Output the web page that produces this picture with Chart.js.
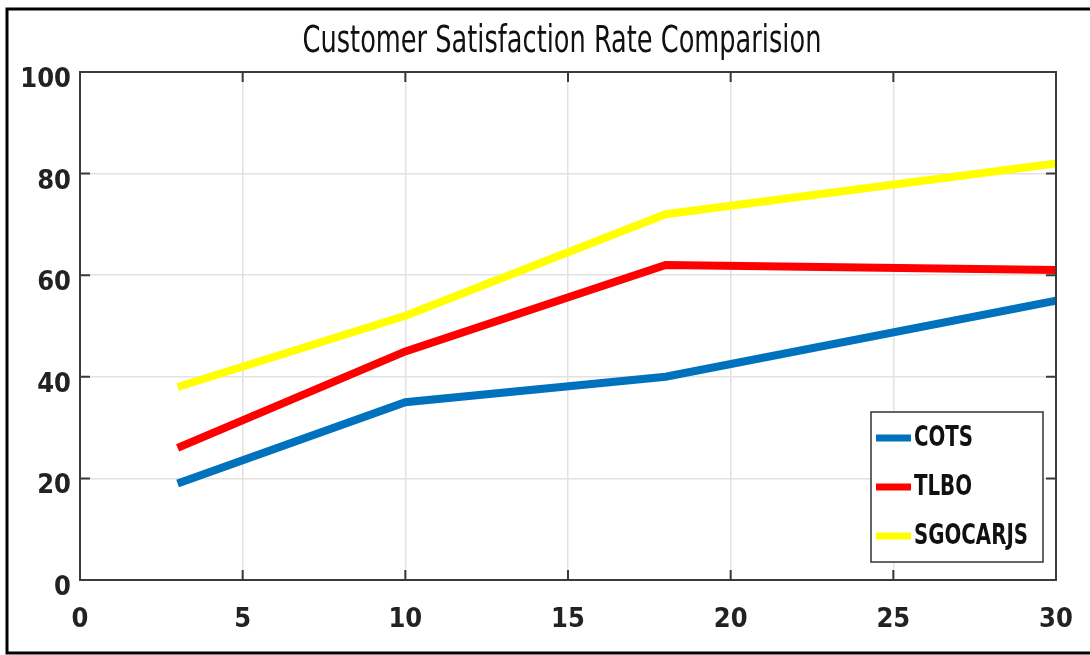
<!DOCTYPE html>
<html>
<head>
<meta charset="utf-8">
<script src="https://cdn.jsdelivr.net/npm/chart.js@4/dist/chart.umd.min.js"></script>
<style>
  html, body { margin: 0; padding: 0; background: #fff; overflow: hidden; }
  #wrap { width: 1090px; height: 655px; }
</style>
</head>
<body>
<div id="wrap"><canvas id="satChart" width="1090" height="655"></canvas></div>
<script>
const chartTitle = 'Customer Satisfaction Rate Comparision';
const xValues = [3, 10, 18, 30];
const cotsValues = [19, 35, 40, 55];
const tlboValues = [26, 45, 62, 61];
const sgocarjsValues = [38, 52, 72, 82];
const seriesNames = ['COTS', 'TLBO', 'SGOCARJS'];
const seriesColors = ['#0072BD', '#FF0000', '#FFFF00'];

const FONT = "'DejaVu Sans Condensed', 'Liberation Sans Narrow', Arial, sans-serif";

function toPoints(ys) {
    return xValues.map((x, i) => ({ x: x, y: ys[i] }));
}

// black frame round the figure (left, top, bottom)
const framePlugin = {
    id: 'frame',
    beforeDraw(chart) {
        const c = chart.ctx;
        c.save();
        c.strokeStyle = '#000';
        c.lineWidth = 3;
        c.beginPath();
        c.moveTo(1095, 9);
        c.lineTo(7, 9);
        c.lineTo(7, 653);
        c.lineTo(1095, 653);
        c.stroke();
        c.restore();
    }
};

// title, stretched a little in height like the original
const titlePlugin = {
    id: 'stretchTitle',
    afterDraw(chart) {
        const c = chart.ctx;
        const a = chart.chartArea;
        c.save();
        c.translate((a.left + a.right) / 2 - 6, 42);
        c.scale(1, 1.3);
        c.font = '28.5px ' + FONT;
        c.fillStyle = '#111';
        c.textAlign = 'center';
        c.textBaseline = 'middle';
        c.fillText(chartTitle, 0, 0);
        c.restore();
    }
};

// box round the plot and inward tick marks, matlab style
const boxPlugin = {
    id: 'box',
    afterDatasetsDraw(chart) {
        const c = chart.ctx;
        const a = chart.chartArea;
        const xs = chart.scales.x, ys = chart.scales.y;
        c.save();
        c.strokeStyle = '#3a3a3a';
        c.lineWidth = 2;
        c.strokeRect(a.left, a.top, a.right - a.left, a.bottom - a.top);
        c.beginPath();
        xs.ticks.forEach(t => {
            const px = xs.getPixelForValue(t.value);
            c.moveTo(px, a.bottom); c.lineTo(px, a.bottom - 10);
            c.moveTo(px, a.top); c.lineTo(px, a.top + 10);
        });
        ys.ticks.forEach(t => {
            const py = ys.getPixelForValue(t.value);
            c.moveTo(a.left, py); c.lineTo(a.left + 10, py);
            c.moveTo(a.right, py); c.lineTo(a.right - 10, py);
        });
        c.stroke();
        c.restore();
    }
};

// legend in the lower right of the plot
const legendBoxPlugin = {
    id: 'legendBox',
    afterDraw(chart) {
        const c = chart.ctx;
        const a = chart.chartArea;
        const w = 172, h = 150;
        const x0 = a.right - 13 - w, y0 = a.bottom - 18 - h;
        c.save();
        c.fillStyle = '#fff';
        c.fillRect(x0, y0, w, h);
        c.strokeStyle = '#333';
        c.lineWidth = 1.5;
        c.strokeRect(x0, y0, w, h);
        chart.data.datasets.forEach((ds, i) => {
            const yy = y0 + 26 + i * 49;
            c.strokeStyle = ds.borderColor;
            c.lineWidth = 7;
            c.beginPath();
            c.moveTo(x0 + 5, yy);
            c.lineTo(x0 + 40, yy);
            c.stroke();
            c.save();
            c.translate(x0 + 43, yy + 1);
            c.scale(1, 1.25);
            c.font = 'bold 22px ' + FONT;
            c.textBaseline = 'middle';
            c.textAlign = 'left';
            c.fillStyle = '#111';
            c.fillText(ds.label, 0, 0);
            c.restore();
        });
        c.restore();
    }
};

const datasets = [cotsValues, tlboValues, sgocarjsValues].map((vals, i) => ({
    label: seriesNames[i],
    data: toPoints(vals),
    borderColor: seriesColors[i],
    backgroundColor: seriesColors[i],
    borderWidth: 8,
    pointRadius: 0,
    tension: 0,
    fill: false
}));

const ctx = document.getElementById('satChart').getContext('2d');
const satChart = new Chart(ctx, {
    type: 'line',
    data: { datasets: datasets },
    options: {
        responsive: false,
        animation: false,
        layout: { padding: { left: 0, top: 72, right: 34, bottom: 0 } },
        plugins: {
            legend: { display: false },
            tooltip: { enabled: false },
            title: { display: false }
        },
        scales: {
            x: {
                type: 'linear',
                min: 0, max: 30,
                ticks: {
                    stepSize: 5,
                    padding: 24,
                    color: '#222',
                    font: { family: FONT, size: 27, weight: 'bold' }
                },
                grid: { color: '#e2e2e2', lineWidth: 1.5, drawTicks: false },
                border: { display: false },
                afterFit(scale) {
                    scale.height = 75;
                    scale.paddingLeft = 0;
                    scale.paddingRight = 0;
                }
            },
            y: {
                min: 0, max: 100,
                ticks: {
                    stepSize: 20,
                    padding: 9,
                    labelOffset: 8,
                    color: '#222',
                    font: { family: FONT, size: 27, weight: 'bold' }
                },
                grid: { color: '#e2e2e2', lineWidth: 1.5, drawTicks: false },
                border: { display: false },
                afterFit(scale) {
                    scale.width = 80;
                    scale.paddingTop = 0;
                    scale.paddingBottom = 0;
                }
            }
        }
    },
    plugins: [framePlugin, boxPlugin, legendBoxPlugin, titlePlugin]
});
</script>
</body>
</html>
